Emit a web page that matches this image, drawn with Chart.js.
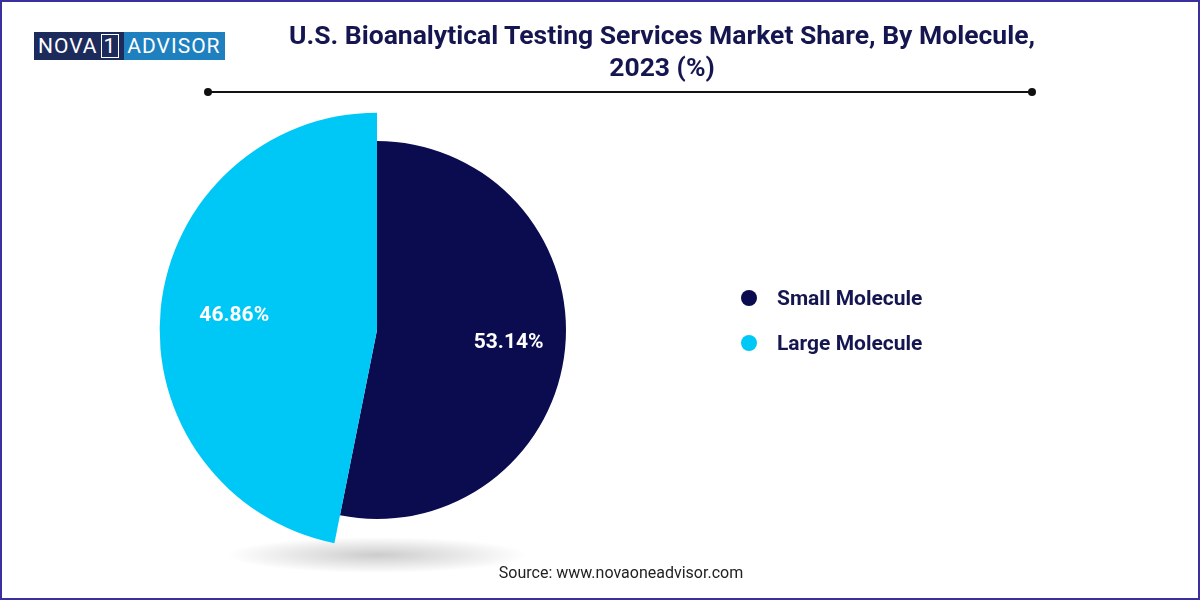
<!DOCTYPE html>
<html><head><meta charset="utf-8">
<script src="https://cdn.jsdelivr.net/npm/chart.js@4"></script>
<style>
body{margin:0;background:#fff;font-family:Roboto,"Open Sans",sans-serif}
#wrap{position:relative;width:1196px;height:596px;border:2px solid #3b2e9e;background:#fff;overflow:hidden}
#logo{position:absolute;left:32px;top:30px;height:28px;display:flex;font-size:21px;letter-spacing:1px;color:#fff;line-height:28px}
#logo .a{background:#1c2a5c;padding:0 3px 0 4px}
#logo .b{background:#1e80bf;padding:0 4px 0 3px}
#logo .one{border:1px solid #fff;padding:0 2px;line-height:22px;margin:2px 2px 0 3px;display:inline-block;height:22px}
#title{position:absolute;left:250px;width:820px;top:17px;text-align:center;font-weight:bold;font-size:26.5px;color:#15164f;line-height:32px}
#rule{position:absolute;left:206px;top:89px;width:824px;height:2px;background:#111}
.dot{position:absolute;top:86px;width:8px;height:8px;border-radius:50%;background:#111}
#src{position:absolute;left:0;width:1238px;top:561px;text-align:center;font-size:16px;color:#222}
#c{position:absolute;left:0;top:0}
#legend{position:absolute;left:736px;top:282px;font-weight:bold;font-size:21px;color:#15164f}
#legend div{height:45px;display:flex;align-items:flex-start;line-height:28px}
#legend span{width:16px;height:16px;border-radius:50%;margin:6px 20px 0 3px}
</style></head><body>
<div id="wrap">
<canvas id="c" width="1196" height="596"></canvas>
<div id="logo"><span class="a">NOVA<span class="one">1</span></span><span class="b">ADVISOR</span></div>
<div id="title">U.S. Bioanalytical Testing Services Market Share, By Molecule,<br>2023 (%)</div>
<div id="rule"></div><div class="dot" style="left:202px"></div><div class="dot" style="left:1026px"></div>
<div id="legend"></div>
<div id="src">Source: www.novaoneadvisor.com</div>
</div>
<script>
const categories = ['Small Molecule', 'Large Molecule'];
const shares = [53.14, 46.86];
const colors = ['#0b0c4f', '#00c8f6'];

document.getElementById('legend').innerHTML = categories.map((c, i) =>
  `<div><span style="background:${colors[i]}"></span>${c}</div>`).join('');

const piePlugin = {
  id: 'piePlugin',
  beforeDatasetsDraw(chart) {
    const ctx = chart.ctx;
    const arc = chart.getDatasetMeta(0).data[0];
    ctx.save();
    const g = ctx.createRadialGradient(0, 0, 0, 0, 0, 1);
    g.addColorStop(0, 'rgba(0,0,0,0.2)');
    g.addColorStop(1, 'rgba(0,0,0,0)');
    ctx.translate(arc.x, 553);
    ctx.scale(150, 18);
    ctx.fillStyle = g;
    ctx.beginPath(); ctx.arc(0, 0, 1, 0, Math.PI * 2); ctx.fill();
    ctx.restore();
    chart.getDatasetMeta(0).data[1].outerRadius = arc.outerRadius * 1.15;
  },
  afterDatasetsDraw(chart) {
    const ctx = chart.ctx;
    const meta = chart.getDatasetMeta(0);
    ctx.save();
    ctx.fillStyle = '#fff';
    ctx.font = 'bold 21px Roboto, sans-serif';
    ctx.textAlign = 'center'; ctx.textBaseline = 'middle';
    meta.data.forEach((a, i) => {
      const mid = (a.startAngle + a.endAngle) / 2;
      const r = i === 0 ? a.outerRadius * 0.7 : a.outerRadius * 0.66;
      ctx.fillText(shares[i].toFixed(2) + '%', a.x + Math.cos(mid) * r, a.y + Math.sin(mid) * r);
    });
    ctx.restore();
  }
};

new Chart(document.getElementById('c'), {
  type: 'pie',
  data: { labels: categories, datasets: [{ data: shares, backgroundColor: colors, borderWidth: 0 }] },
  options: {
    responsive: false, animation: false,
    layout: { padding: { left: 0, top: 139, bottom: 79, right: 446 } },
    plugins: { tooltip: { enabled: false }, legend: { display: false } }
  },
  plugins: [piePlugin]
});
</script>
</body></html>
